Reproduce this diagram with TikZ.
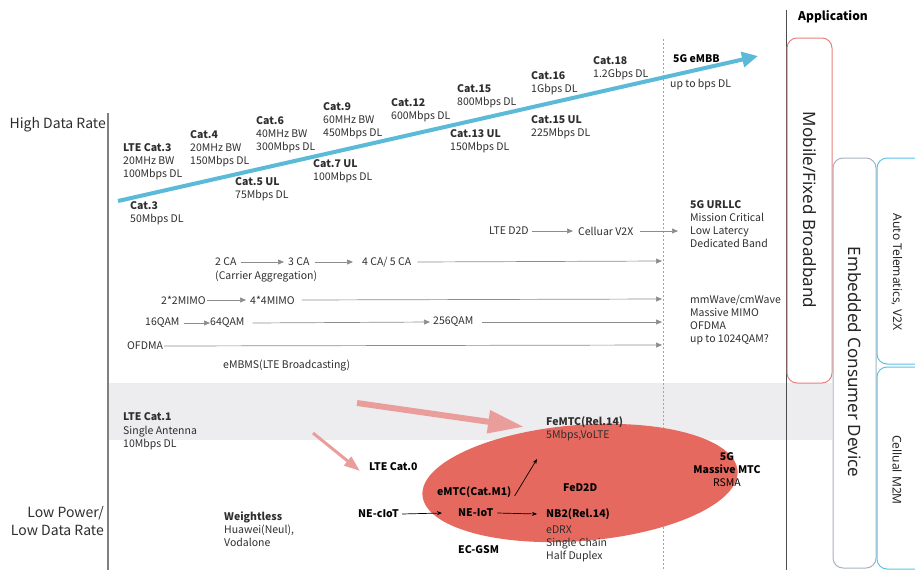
\documentclass[tikz,border=0pt]{standalone}
\usepackage{fontspec}
\setmainfont{Noto Sans CJK SC}
\newfontfamily\boxfont{Noto Sans}
\usetikzlibrary{arrows.meta}

\definecolor{ratearrow}{HTML}{5BBAD8}
\definecolor{bandgray}{HTML}{EDEDF0}
\definecolor{ovalred}{HTML}{E5695F}
\definecolor{pinkarrow}{HTML}{EA9E9C}
\definecolor{mobred}{HTML}{E8807A}
\definecolor{embgray}{HTML}{A7B2C2}
\definecolor{appblue}{HTML}{5BC3E6}
\definecolor{flowgray}{HTML}{8C8C8C}
\definecolor{axisgray}{HTML}{7F7F7F}
\definecolor{txt}{HTML}{2E2E2E}

\begin{document}
\begin{tikzpicture}[x=1pt,y=-1pt,
  lbl/.style={font=\fontsize{10.5}{13}\selectfont, inner sep=0pt, align=left,
              anchor=north west, text=txt},
  one/.style={font=\fontsize{10.5}{13}\selectfont, inner sep=0pt, anchor=west, text=txt},
  bold/.style={font=\fontsize{10.5}{13}\selectfont\bfseries, inner sep=0pt, anchor=west, text=black},
  flow/.style={draw=flowgray, line width=0.7pt, -{Triangle[length=6pt,width=5pt]}},
  link/.style={draw=black, line width=0.7pt, -{Stealth[length=5pt,width=4pt]}},
  boxtext/.style={font=\boxfont\fontsize{17}{20}\selectfont, text=black!85, inner sep=0pt},
  smallbox/.style={font=\boxfont\fontsize{12}{14}\selectfont, text=black!85, inner sep=0pt},
  axislbl/.style={font=\fontsize{14}{18}\selectfont, text=txt, inner sep=0pt, align=right, anchor=east},
]
\useasboundingbox (0,0) rectangle (915,570);
\clip (0,0) rectangle (915,570);

% low-power band
\fill[bandgray] (109,383) rectangle (832,440);

% axes and separators
\draw[axisgray, line width=1.5pt] (108,113) -- (108,570);
\draw[flowgray!80, line width=0.6pt, dash pattern=on 2pt off 2pt] (663,39) -- (663,570);
\draw[black!70, line width=0.8pt] (786,10) -- (786,570);

% application columns
\draw[mobred, line width=1pt, rounded corners=10pt] (787,38) rectangle (832,383);
\draw[embgray, line width=1pt, rounded corners=10pt] (833,158) rectangle (876,568);
\draw[appblue, line width=1pt, rounded corners=10pt] (877,158) rectangle (935,364);
\draw[appblue, line width=1pt, rounded corners=10pt] (877,367) rectangle (935,569);

\node[font=\fontsize{12}{14}\selectfont\bfseries, anchor=west, inner sep=0pt] (app) at (798,17) {Application};
\node[boxtext, rotate=-90] (mob) at (809.5,210) {Mobile/Fixed Broadband};
\node[boxtext, rotate=-90] (emb) at (854.5,362) {Embedded Consumer Device};
\node[smallbox, rotate=-90] (auto) at (897,272) {Auto Telematics, V2X};
\node[smallbox, rotate=-90] (m2m) at (897,470) {Cellual M2M};

% axis labels
\node[axislbl] (high) at (106,125) {High Data Rate};
\node[axislbl] (low) at (104,521) {Low Power/\\Low Data Rate};

% high data rate evolution
\coordinate (rateStart) at (118,201);
\coordinate (rateEnd) at (758,56);
\draw[ratearrow, line width=4pt, -{Triangle[length=16pt,width=15pt]}] (rateStart) -- (rateEnd);

\node[lbl] (lte3) at (123,143.5) {\textbf{LTE Cat.3}\\20MHz BW\\100Mbps DL};
\node[lbl] (c4) at (190,130.5) {\textbf{Cat.4}\\20MHz BW\\150Mbps DL};
\node[lbl] (c6) at (256,116.5) {\textbf{Cat.6}\\40MHz BW\\300Mbps DL};
\node[lbl] (c3) at (130,201.5) {\textbf{Cat.3}\\50Mbps DL};
\node[lbl] (c5) at (235,177.5) {\textbf{Cat.5 UL}\\75Mbps DL};
\node[lbl] (c9) at (323,102.5) {\textbf{Cat.9}\\60MHz BW\\450Mbps DL};
\node[lbl] (c7) at (313,159.5) {\textbf{Cat.7 UL}\\100Mbps DL};
\node[lbl] (c12) at (391,98.5) {\textbf{Cat.12}\\600Mbps DL};
\node[lbl] (c15) at (457,84.5) {\textbf{Cat.15}\\800Mbps DL};
\node[lbl] (c13) at (450,129.5) {\textbf{Cat.13 UL}\\150Mbps DL};
\node[lbl] (c16) at (531,71.5) {\textbf{Cat.16}\\1Gbps DL};
\node[lbl] (c15u) at (531,115.5) {\textbf{Cat.15 UL}\\225Mbps DL};
\node[lbl] (c18) at (593,56.5) {\textbf{Cat.18}\\1.2Gbps DL};
\node[bold] (embb) at (673,59) {5G eMBB};
\node[one] (upto) at (670,85) {up to bps DL};

% D2D / V2X
\node[one] (d2d) at (489,231) {LTE D2D};
\node[one] (v2x) at (578,231) {Celluar V2X};
\node[lbl] (urllc) at (690,200.5) {\textbf{5G URLLC}\\Mission Critical\\Low Latercy\\Dedicated Band};
\draw[flow] ([xshift=3pt]d2d.east) -- ([xshift=-5pt]v2x.west);
\draw[flow] ([xshift=7pt]v2x.east) -- ([xshift=-12pt]urllc.west |- v2x.east);

% carrier aggregation
\node[one] (ca2) at (215,262) {2 CA};
\node[one] (ca3) at (288,262) {3 CA};
\node[one] (ca45) at (362,262) {4 CA/ 5 CA};
\node[one] (caname) at (215,277) {(Carrier Aggregation)};
\coordinate (caEnd) at (662,261);
\draw[flow] ([xshift=4pt]ca2.east) -- ([xshift=-4pt]ca3.west);
\draw[flow] ([xshift=5pt]ca3.east) -- ([xshift=-9pt]ca45.west);
\draw[flow] ([xshift=6pt]ca45.east) -- (caEnd);

% MIMO
\node[one] (mimo2) at (161,300) {2*2MIMO};
\node[one] (mimo4) at (250,300) {4*4MIMO};
\coordinate (mimoEnd) at (662,299);
\draw[flow] ([xshift=1pt]mimo2.east) -- ([xshift=-4pt]mimo4.west);
\draw[flow] ([xshift=7pt]mimo4.east) -- (mimoEnd);

% modulation
\node[one] (q16) at (145,323) {16QAM};
\node[one] (q64) at (210,323) {64QAM};
\node[one] (q256) at (433,322) {256QAM};
\coordinate (qamEnd) at (662,322);
\draw[flow] ([xshift=4pt]q16.east) -- ([xshift=0pt]q64.west);
\draw[flow] ([xshift=8pt]q64.east) -- ([xshift=-3pt]q256.west);
\draw[flow] ([xshift=9pt]q256.east) -- (qamEnd);

% OFDMA and broadcasting
\node[one] (ofdma) at (127,346) {OFDMA};
\coordinate (ofdmaEnd) at (662,345);
\draw[flow] ([xshift=1pt]ofdma.east) -- (ofdmaEnd);
\node[one] (embms) at (223,366) {eMBMS(LTE Broadcasting)};

\node[lbl] (mmw) at (690,294.5) {mmWave/cmWave\\Massive MIMO\\OFDMA\\up to 1024QAM?};

% low power / low data rate
\fill[ovalred, rotate around={4.5:(580,483)}] (580,483) ellipse [x radius=158, y radius=58];

\node[lbl, font=\fontsize{10.5}{13.5}\selectfont] (cat1) at (123,412.5) {\textbf{LTE Cat.1}\\Single Antenna\\10Mbps DL};
\node[lbl] (weightless) at (224,511.5) {\textbf{Weightless}\\Huawei(Neul),\\Vodalone};
\node[lbl] (femtc) at (546,416.5) {\textbf{FeMTC(Rel.14)}\\5Mbps,VoLTE};
\node[bold] (cat0) at (369,467) {LTE Cat.0};
\node[bold] (emtc) at (437,492) {eMTC(Cat.M1)};
\node[bold] (fed2d) at (563,488) {FeD2D};
\node[bold] (necIoT) at (358,514) {NE-cIoT};
\node[bold] (neIoT) at (458,513) {NE-IoT};
\node[bold] (nb2) at (546,514) {NB2(Rel.14)};
\node[lbl] (nb2spec) at (546,525.5) {eDRX\\Single Chain\\Half Duplex};
\node[bold] (ecgsm) at (458,550) {EC-GSM};
\node[font=\fontsize{10.5}{13}\selectfont, inner sep=0pt, align=center, anchor=north, text=black] (mmtc) at (727,452.5)
  {\textbf{5G}\\\textbf{Massive MTC}\\RSMA};

\coordinate (emtcTip) at (537,459);
\draw[link] ([xshift=3pt,yshift=-4pt]emtc.east) -- (emtcTip);
\draw[link] ([xshift=3pt]necIoT.east) -- ([xshift=-16pt]neIoT.west);
\draw[link] ([xshift=4pt]neIoT.east) -- ([xshift=-9pt]nb2.west);

% migration arrows
\coordinate (bigStart) at (357,403);
\coordinate (smallStart) at (313,433);
\draw[pinkarrow, line width=6pt, -{Triangle[length=36pt,width=22pt]}] (bigStart) -- ([xshift=-22pt,yshift=2pt]femtc.west);
\draw[pinkarrow, line width=3pt, -{Triangle[length=16pt,width=11pt]}] (smallStart) -- ([xshift=-9pt,yshift=-4pt]cat0.west);
\end{tikzpicture}
\end{document}
